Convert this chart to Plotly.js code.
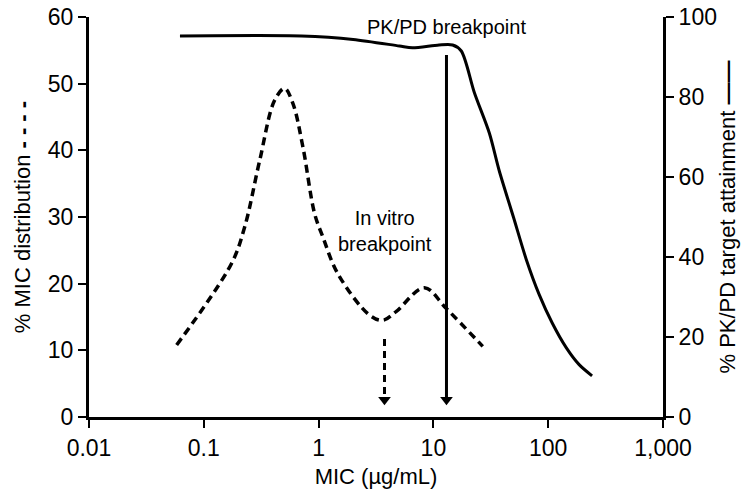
<!DOCTYPE html>
<html>
<head>
<meta charset="utf-8">
<script src="https://cdn.plot.ly/plotly-3.0.1.min.js"></script>
<style>html,body{margin:0;padding:0;background:#fff;}#chart{width:750px;height:503px;}</style>
</head>
<body>
<div id="chart"></div>
<script>
// MIC distribution (% of isolates, left axis)
const micX = [0.058, 0.174, 0.227, 0.307, 0.414, 0.506, 0.598, 0.73, 0.923, 1.09, 1.47, 2.77, 3.62, 4.73, 8.35, 12.9, 26.9];
const micY = [10.8, 23.0, 28.5, 38.5, 47.5, 49.3, 47.0, 40.5, 30.5, 27.0, 21.5, 15.3, 14.5, 15.8, 19.4, 16.3, 10.6];

// PK/PD target attainment (%, right axis)
const ptaX = [0.062, 0.71, 2.0, 5.06, 6.56, 11.2, 14.7, 17.5, 22.8, 30.7, 37.5, 50, 64.4, 83.5, 108.4, 143.5, 186, 241];
const ptaY = [95.25, 95.25, 94.4, 92.75, 92.3, 93.0, 93.0, 91.5, 81.0, 71.0, 61.5, 49.8, 39.4, 30.6, 23.5, 17.35, 13.1, 10.3];

// Breakpoints (MIC, µg/mL)
const vitroBreakpoint = 3.75;
const pkpdBreakpoint = 13;
const vitroArrowY = [11.7, 2.6];
const pkpdArrowY = [54.3, 2.6];

const xTickVals = [0.01, 0.1, 1, 10, 100, 1000];
const xTickText = ['0.01', '0.1', '1', '10', '100', '1,000'];

const font = 'Liberation Sans, Arial, Helvetica, sans-serif';

const traces = [
  {x: micX, y: micY, type: 'scatter', mode: 'lines', yaxis: 'y',
   line: {color: '#000', width: 3.5, dash: '8px,5px', shape: 'spline', smoothing: 1}},
  {x: ptaX, y: ptaY, type: 'scatter', mode: 'lines', yaxis: 'y2',
   line: {color: '#000', width: 3, shape: 'spline', smoothing: 0.8}},
  {x: [vitroBreakpoint, vitroBreakpoint], y: vitroArrowY, type: 'scatter', mode: 'lines', yaxis: 'y',
   line: {color: '#000', width: 3, dash: '7px,5px'}},
  {x: [pkpdBreakpoint, pkpdBreakpoint], y: pkpdArrowY, type: 'scatter', mode: 'lines', yaxis: 'y',
   line: {color: '#000', width: 3}},
  {x: [vitroBreakpoint, pkpdBreakpoint], y: [vitroArrowY[1], pkpdArrowY[1]], type: 'scatter', mode: 'markers', yaxis: 'y',
   marker: {symbol: 'triangle-down', size: 11, color: '#000'}}
];

const layout = {
  width: 750, height: 503,
  margin: {l: 89, r: 87, t: 17, b: 86},
  paper_bgcolor: '#fff', plot_bgcolor: '#fff',
  showlegend: false,
  font: {family: font, color: '#000', size: 22},
  xaxis: {
    type: 'log', range: [-2, 3],
    tickvals: xTickVals, ticktext: xTickText,
    showgrid: false, zeroline: false,
    showline: true, linewidth: 3, linecolor: '#000',
    ticks: 'outside', ticklen: 8, tickwidth: 2, tickcolor: '#000',
    tickfont: {size: 23, family: font},
    title: {text: 'MIC (µg/mL)', font: {size: 22, family: font}, standoff: 10}
  },
  yaxis: {
    range: [0, 60], dtick: 10,
    showgrid: false, zeroline: false,
    showline: true, linewidth: 3, linecolor: '#000',
    ticks: 'outside', ticklen: 8, tickwidth: 2, tickcolor: '#000',
    tickfont: {size: 23, family: font},
    title: {text: '% MIC distribution <b>- - - -</b>', font: {size: 22, family: font}, standoff: 12}
  },
  yaxis2: {
    overlaying: 'y', side: 'right',
    range: [0, 100], dtick: 20,
    showgrid: false, zeroline: false,
    showline: true, linewidth: 3, linecolor: '#000',
    ticks: 'outside', ticklen: 8, tickwidth: 2, tickcolor: '#000',
    tickfont: {size: 23, family: font},
    title: {text: '% PK/PD target attainment <b>——</b>', font: {size: 22, family: font}, standoff: 4}
  },
  annotations: [
    {x: Math.log10(pkpdBreakpoint), y: 58.5, xref: 'x', yref: 'y', text: 'PK/PD breakpoint',
     showarrow: false, font: {size: 20, family: font}},
    {x: Math.log10(vitroBreakpoint), y: 27.9, xref: 'x', yref: 'y', text: 'In vitro<br>breakpoint',
     showarrow: false, font: {size: 20, family: font}}
  ]
};

Plotly.newPlot('chart', traces, layout, {displayModeBar: false, staticPlot: true});
</script>
</body>
</html>
